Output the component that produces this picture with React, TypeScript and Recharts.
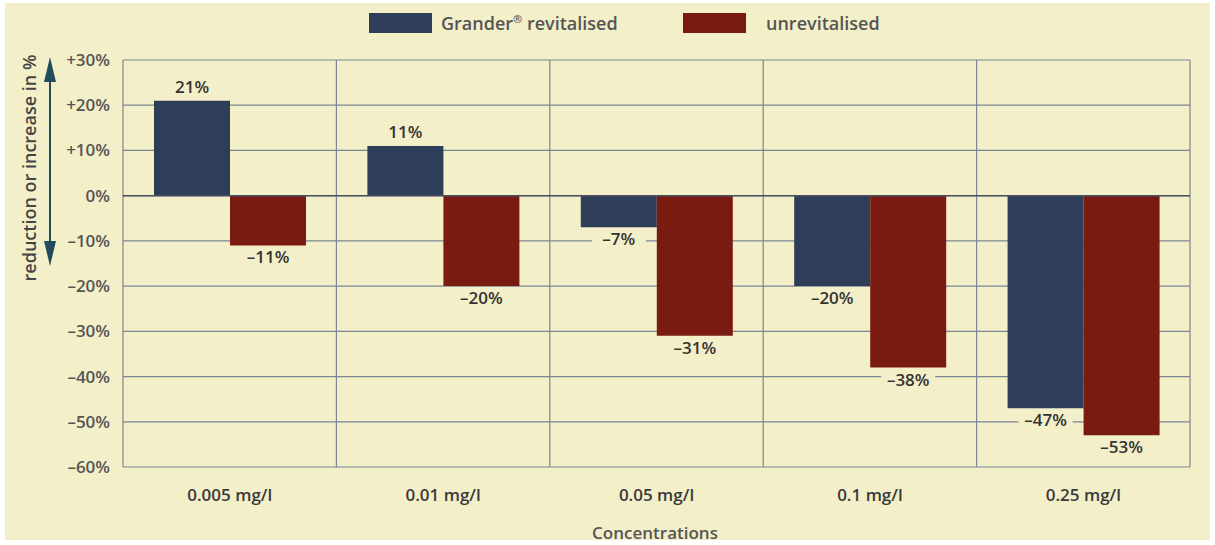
import React from 'react';
import {
  BarChart, Bar, XAxis, YAxis, CartesianGrid, ReferenceLine, LabelList,
} from 'recharts';

const CATEGORIES = ['0.005 mg/l', '0.01 mg/l', '0.05 mg/l', '0.1 mg/l', '0.25 mg/l'];
const REVITALISED = [21, 11, -7, -20, -47];
const UNREVITALISED = [-11, -20, -31, -38, -53];
const Y_TICKS = [30, 20, 10, 0, -10, -20, -30, -40, -50, -60];

const BLUE = '#2e3d58';
const RED = '#7a1b12';
const BG = '#f3efc9';
const GRID = '#7d8594';
const FONT = '"Open Sans", "DejaVu Sans", sans-serif';

const data = CATEGORIES.map((name, i) => ({
  name,
  revitalised: REVITALISED[i],
  unrevitalised: UNREVITALISED[i],
}));

const fmtTick = (v: number) => (v > 0 ? `+${v}%` : v < 0 ? `–${Math.abs(v)}%` : '0%');
const fmtVal = (v: number) => (v < 0 ? `–${Math.abs(v)}%` : `${v}%`);

function ValueLabel(props: any) {
  const { x = 0, y = 0, width = 0, height = 0, value = 0 } = props;
  const cx = x + width / 2;
  const top = Math.min(y, y + height);
  const bottom = Math.max(y, y + height);
  if (value >= 0) {
    return (
      <text x={cx} y={top - 8} textAnchor="middle" fontSize={17} fontWeight={600}
        fill="#333" fontFamily={FONT}>
        {fmtVal(value)}
      </text>
    );
  }
  return (
    <g>
      <rect x={cx - 27} y={bottom + 2} width={54} height={20} fill={BG} />
      <text x={cx} y={bottom + 18} textAnchor="middle" fontSize={17} fontWeight={600}
        fill="#333" fontFamily={FONT}>
        {fmtVal(value)}
      </text>
    </g>
  );
}

export default function App() {
  return (
    <div style={{ position: 'absolute', left: 0, top: 0, width: 1215, height: 545, background: '#fff' }}>
      <div style={{ position: 'absolute', left: 5, top: 3, width: 1205, height: 537, background: BG }} />
      <div style={{ position: 'absolute', left: 0, top: 0 }}>
        <BarChart width={1215} height={545} data={data}
          margin={{ top: 60, right: 25, bottom: 48, left: 51 }}
          barCategoryGap={31} barGap={0}>
          <CartesianGrid stroke={GRID} strokeWidth={1.2}
            verticalCoordinatesGenerator={({ offset }: any) =>
              CATEGORIES.map((_, i) => offset.left + (i * offset.width) / CATEGORIES.length)
                .concat([offset.left + offset.width])}
          />
          <XAxis dataKey="name" axisLine={false} tickLine={false} tickMargin={16} height={30}
            tick={{ fontSize: 17, fontWeight: 600, fill: '#3a3a3a', fontFamily: FONT }} />
          <YAxis width={72} domain={[-60, 30]} ticks={Y_TICKS} interval={0}
            axisLine={false} tickLine={false} tickSize={0} tickMargin={13}
            tickFormatter={fmtTick}
            tick={{ fontSize: 17, fontWeight: 600, fill: '#555', fontFamily: FONT }} />
          <ReferenceLine y={0} stroke="#4a5060" strokeWidth={1.5} />
          <Bar dataKey="revitalised" fill={BLUE} isAnimationActive={false}>
            <LabelList dataKey="revitalised" content={<ValueLabel />} />
          </Bar>
          <Bar dataKey="unrevitalised" fill={RED} isAnimationActive={false}>
            <LabelList dataKey="unrevitalised" content={<ValueLabel />} />
          </Bar>
        </BarChart>
      </div>
      {/* legend */}
      <div style={{ position: 'absolute', left: 369, top: 13, display: 'flex', alignItems: 'center',
        fontFamily: FONT, fontSize: 18, fontWeight: 600, color: '#555' }}>
        <div style={{ width: 63, height: 20, background: BLUE }} />
        <span style={{ marginLeft: 9, lineHeight: '20px' }}>
          Grander<sup style={{ fontSize: 11, lineHeight: 0 }}>®</sup> revitalised
        </span>
      </div>
      <div style={{ position: 'absolute', left: 683, top: 13, display: 'flex', alignItems: 'center',
        fontFamily: FONT, fontSize: 18, fontWeight: 600, color: '#555' }}>
        <div style={{ width: 63, height: 20, background: RED }} />
        <span style={{ marginLeft: 20, lineHeight: '20px' }}>unrevitalised</span>
      </div>
      <svg style={{ position: 'absolute', left: 0, top: 0 }} width={80} height={300}>
        <line x1={50} y1={72} x2={50} y2={250} stroke="#234c5a" strokeWidth={2} />
        <polygon points="50,57 44,82 56,82" fill="#234c5a" />
        <polygon points="50,266 44,241 56,241" fill="#234c5a" />
        <text x={0} y={0} transform="translate(36,168) rotate(-90)" textAnchor="middle"
          fontSize={18} fontWeight={600} fill="#444" fontFamily={FONT}>
          reduction or increase in %
        </text>
      </svg>
      <div style={{ position: 'absolute', left: 0, width: 1310, top: 521, textAlign: 'center',
        fontSize: 17, fontWeight: 600, color: '#555', fontFamily: FONT }}>
        Concentrations
      </div>
    </div>
  );
}
